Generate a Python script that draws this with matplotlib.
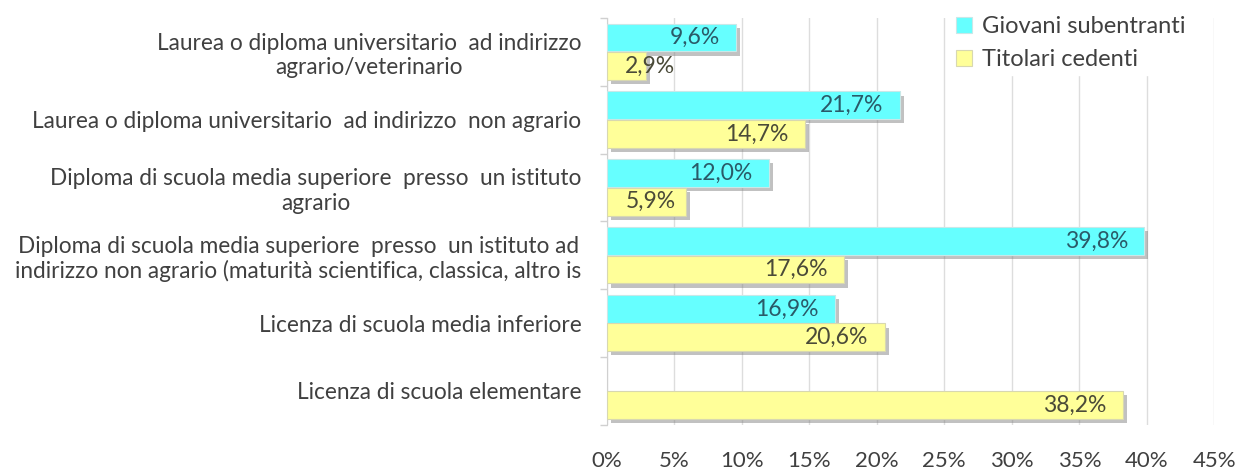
import numpy as np
import matplotlib
matplotlib.use('Agg')
import matplotlib.pyplot as plt
import matplotlib.patheffects as pe
from matplotlib.patches import Patch
from matplotlib.ticker import FixedLocator

# ---------------------------- data ----------------------------
categorie = [
    'Laurea o diploma universitario  ad indirizzo\nagrario/veterinario',
    'Laurea o diploma universitario  ad indirizzo  non agrario',
    'Diploma di scuola media superiore  presso  un istituto\nagrario',
    'Diploma di scuola media superiore  presso  un istituto ad\nindirizzo non agrario (maturità scientifica, classica, altro is',
    'Licenza di scuola media inferiore',
    'Licenza di scuola elementare',
]
giovani = [9.6, 21.7, 12.0, 39.8, 16.9, None]
titolari = [2.9, 14.7, 5.9, 17.6, 20.6, 38.2]
serie_nomi = ['Giovani subentranti', 'Titolari cedenti']
xticks = [0, 5, 10, 15, 20, 25, 30, 35, 40, 45]

plt.rcParams['font.family'] = ['Lato', 'DejaVu Sans']

fig = plt.figure(figsize=(12.43, 4.70), dpi=100)
ax = fig.add_axes([0.488, 0.096, 0.489, 0.866])

y = np.arange(len(categorie))
h = 0.41
shadow = [pe.SimplePatchShadow(offset=(3, -3), shadow_rgbFace='#777777', alpha=0.45), pe.Normal()]

g_vals = [v if v is not None else 0 for v in giovani]
b1 = ax.barh(y - 0.21, g_vals, height=h, color='#66FFFF', edgecolor='#c8e8e8', lw=0.8, zorder=3)
b2 = ax.barh(y + 0.21, titolari, height=h, color='#FFFF99', edgecolor='#d8d8b0', lw=0.8, zorder=3)
for bars, vals in ((b1, giovani), (b2, titolari)):
    for r, v in zip(bars, vals):
        if v is None:
            r.set_visible(False)
        else:
            r.set_path_effects(shadow)

# value labels
for vals, dy, col in ((giovani, -0.21, '#2a5a68'), (titolari, 0.21, '#4a4a38')):
    for i, v in enumerate(vals):
        if v is None:
            continue
        ax.text(max(v - 1.2, 5.1), i + dy, f'{v:.1f}%'.replace('.', ','),
                ha='right', va='center', fontsize=16.5, color=col, zorder=5)

ax.set_xlim(0, 45)
ax.set_ylim(5.5, -0.5)
ax.set_xticks(xticks)
ax.set_xticklabels([f'{t}%' for t in xticks], fontsize=16, color='#404040')
ax.tick_params(axis='x', length=0, pad=19)
ax.set_yticks(y)
ax.set_yticklabels(categorie, fontsize=16.3, color='#404040', multialignment='center')
ax.tick_params(axis='y', which='major', length=0, pad=18)
ax.yaxis.set_minor_locator(FixedLocator(np.arange(-0.5, 6, 1)))
ax.tick_params(axis='y', which='minor', length=5, color='#d0d0d0', width=1)

ax.grid(axis='x', color='#dddddd', lw=1, zorder=0)
ax.set_axisbelow(True)
for s in ('top', 'right', 'bottom'):
    ax.spines[s].set_visible(False)
ax.spines['left'].set_color('#d0d0d0')

handles = [Patch(facecolor='#66FFFF', edgecolor='#c8e8e8', lw=0.8),
           Patch(facecolor='#FFFF99', edgecolor='#d8d8b0', lw=0.8)]
leg = ax.legend(handles, serie_nomi, loc='upper right', bbox_to_anchor=(0.96, 1.015),
                frameon=True, fontsize=17, handlelength=0.7, handleheight=0.7,
                handletextpad=0.4, labelspacing=0.5, borderpad=0.2, borderaxespad=0.0)
leg.get_frame().set_edgecolor('white')
leg.get_frame().set_facecolor('white')
leg.get_frame().set_alpha(1)
for t in leg.get_texts():
    t.set_color('#404040')
leg.set_zorder(10)

fig.savefig('out.png', dpi=100)
